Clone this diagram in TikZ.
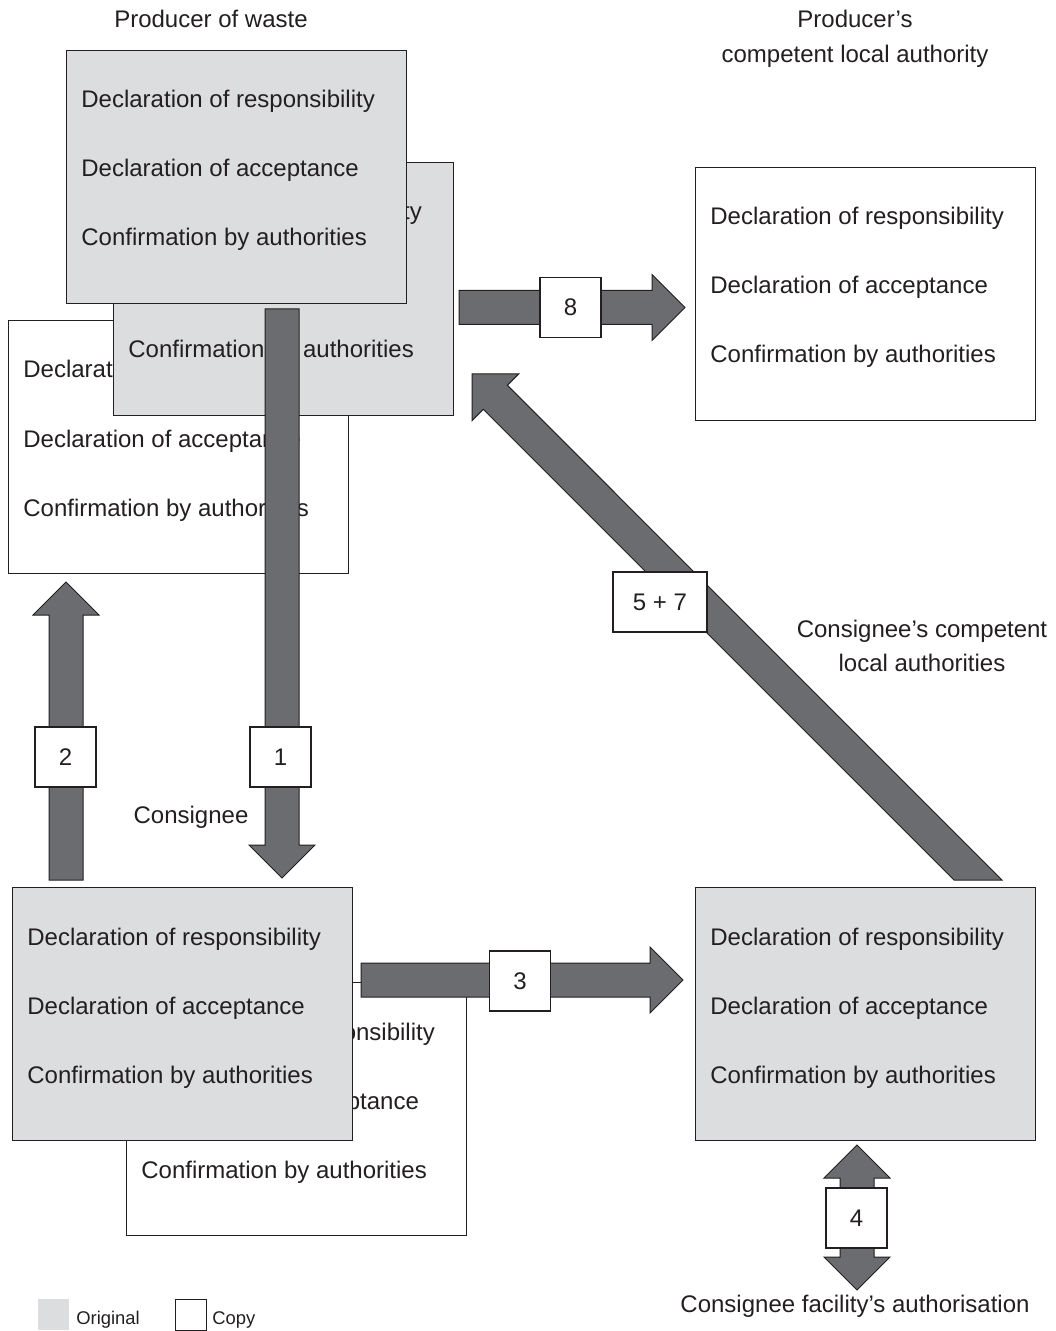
\documentclass[tikz,border=0pt]{standalone}
\usepackage{fontspec}
\setmainfont{Liberation Sans}
\usetikzlibrary{calc}

\definecolor{ink}{HTML}{231F20}
\definecolor{origfill}{HTML}{DCDDDF}
\definecolor{arrowfill}{HTML}{6B6C70}

\tikzset{
  doc/.style={draw=ink, line width=0.7pt, anchor=north west, inner sep=0pt,
              minimum width=170pt, minimum height=126.5pt},
  original/.style={doc, fill=origfill},
  copydoc/.style={doc, fill=white},
  docline/.style={anchor=base west, inner sep=0pt, text=ink,
                  font=\fontsize{12}{14}\selectfont},
  tag/.style={draw=ink, line width=0.6pt, fill=white, minimum width=30.5pt,
              minimum height=30pt, inner sep=0pt, text=ink,
              font=\fontsize{12}{14}\selectfont},
  barrow/.style={fill=arrowfill, draw=ink, line width=0.5pt, line join=miter},
  caption/.style={anchor=base, inner sep=0pt, text=ink,
                  font=\fontsize{12}{14}\selectfont},
  legendtext/.style={anchor=base west, inner sep=0pt, text=ink,
                     font=\fontsize{9.2}{11}\selectfont},
}

% the three entries written on every document sheet
\newcommand\doclines[1]{%
  \node[docline] at ($(#1.north west)+(15,58)$)  {Declaration of responsibility};
  \node[docline] at ($(#1.north west)+(15,127)$) {Declaration of acceptance};
  \node[docline] at ($(#1.north west)+(15,196)$) {Confirmation by authorities};
}

% block arrow from tail #1 to tip #2; #3 and #4 are the two tail corners
\newcommand\blockarrowx[4]{%
  \coordinate (hb) at ($(#2)!16.5pt!(#1)$);
  \filldraw[barrow] #3 -- ($(hb)!8.5pt!90:(#2)$) -- ($(hb)!16.5pt!90:(#2)$)
    -- (#2) -- ($(hb)!16.5pt!-90:(#2)$) -- ($(hb)!8.5pt!-90:(#2)$) -- #4 -- cycle;
}
\newcommand\blockarrow[2]{%
  \blockarrowx{#1}{#2}{($(#1)!8.5pt!90:(#2)$)}{($(#1)!8.5pt!-90:(#2)$)}}

\begin{document}
\begin{tikzpicture}[x=0.5pt, y=-0.5pt]
  \useasboundingbox (0,0) rectangle (1055,1331);

  % ---------- producer of waste ----------
  \node[copydoc]  (tlcopy) at (8,320) {};
  \doclines{tlcopy}
  \node[original] (tlmid) at (113,162) {};
  \doclines{tlmid}

  \coordinate (a1tail) at (282,309);
  \coordinate (a1tip)  at (282,878);
  \blockarrow{a1tail}{a1tip}

  \node[original] (tlfront) at (66,50) {};
  \doclines{tlfront}
  \node[tag] (t1) at (280.5,757) {1};

  % ---------- producer's competent local authority ----------
  \node[copydoc] (tr) at (695,167) {};
  \doclines{tr}
  \coordinate (a8tail) at (459,307.5);
  \coordinate (a8tip)  at (685,307.5);
  \blockarrow{a8tail}{a8tip}
  \node[tag] (t8) at (570.5,307.5) {8};

  % ---------- consignee ----------
  \coordinate (a2tail) at (66,880);
  \coordinate (a2tip)  at (66,582);
  \blockarrow{a2tail}{a2tip}
  \node[tag] (t2) at (65.5,757) {2};

  \node[copydoc]  (blcopy)  at (126,982) {};
  \doclines{blcopy}
  \node[original] (blfront) at (12,887) {};
  \doclines{blfront}

  \coordinate (a3tail) at (361,980);
  \coordinate (a3tip)  at (683,980);
  \blockarrow{a3tail}{a3tip}
  \node[tag] (t3) at (520,981) {3};

  % ---------- consignee's competent local authorities ----------
  \node[original] (br) at (695,887) {};
  \doclines{br}

  \coordinate (a4mid) at (857,1218);
  \coordinate (a4up)  at (857,1145);
  \coordinate (a4dn)  at (857,1290);
  \blockarrow{a4mid}{a4up}
  \blockarrow{a4mid}{a4dn}
  \node[tag] (t4) at (856.5,1218) {4};

  \coordinate (a5tail) at (978,880);
  \coordinate (a5tip)  at (472,374);
  \coordinate (a5left)  at (954,880);
  \coordinate (a5right) at (1002,880);
  \blockarrowx{a5tail}{a5tip}{(a5left)}{(a5right)}
  \node[tag, minimum width=47pt] (t57) at (660,602) {5 + 7};

  % ---------- captions ----------
  \node[caption] (cprod)  at (211,28)  {Producer of waste};
  \node[caption] (cauth1) at (855,28)  {Producer’s};
  \node[caption] (cauth2) at (855,63)  {competent local authority};
  \node[caption] (ccons)  at (191,823) {Consignee};
  \node[caption] (cloc1)  at (922,637) {Consignee’s competent};
  \node[caption] (cloc2)  at (922,671) {local authorities};
  \node[caption] (cfac)   at (855,1312) {Consignee facility’s authorisation};

  % ---------- legend ----------
  \node[fill=origfill, minimum size=15.5pt, inner sep=0pt, anchor=north west]
    (legorig) at (38,1299) {};
  \node[legendtext] (legorigtxt) at (76,1324) {Original};
  \node[draw=ink, line width=0.6pt, fill=white, minimum size=15.5pt, inner sep=0pt,
        anchor=north west] (legcopy) at (175,1299) {};
  \node[legendtext] (legcopytxt) at (212,1324) {Copy};
\end{tikzpicture}
\end{document}
